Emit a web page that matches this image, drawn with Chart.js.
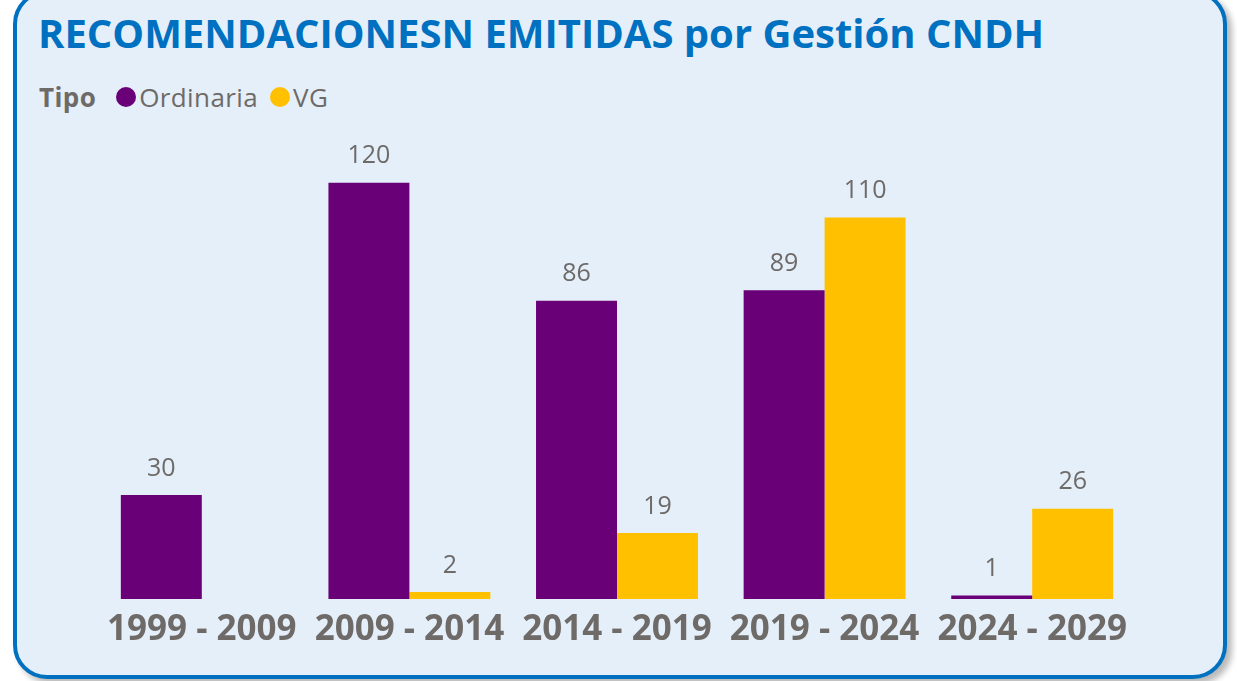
<!DOCTYPE html>
<html>
<head>
<meta charset="utf-8">
<script src="https://cdn.jsdelivr.net/npm/chart.js@4"></script>
<style>
  html, body { margin: 0; padding: 0; background: #ffffff; width: 1237px; height: 681px; overflow: hidden; }
  .card {
    position: absolute; left: 13px; top: -10px; width: 1206px; height: 681px;
    border: 4px solid #0070c0; border-radius: 34px; background: #e4eff9;
    box-shadow: 5px 5px 6px rgba(0,0,0,0.28);
  }
  .title {
    position: absolute; left: 38px; top: 5px; margin: 0;
    font-family: "Open Sans", sans-serif; font-weight: 700; font-size: 40px;
    color: #0070c0; white-space: nowrap;
  }
  .legend {
    position: absolute; left: 39px; top: 79px; height: 36px;
    font-family: "Open Sans", sans-serif; font-size: 26px; color: #6e6a68;
    display: flex; align-items: center; white-space: nowrap; letter-spacing: 0.4px;
  }
  .legend b { font-weight: 700; margin-right: 20px; }
  .legend .dot { display: inline-block; width: 20px; height: 20px; border-radius: 50%; margin-right: 3px; }
  .legend .item { display: flex; align-items: center; margin-right: 12px; }
  #wrap { position: absolute; left: 0; top: 130px; width: 1237px; height: 540px; }
</style>
</head>
<body>
<div class="card"></div>
<h1 class="title">RECOMENDACIONESN EMITIDAS por Gestión CNDH</h1>
<div class="legend" id="legend"></div>
<div id="wrap"><canvas id="chart"></canvas></div>
<script>
const periods = ["1999 - 2009", "2009 - 2014", "2014 - 2019", "2019 - 2024", "2024 - 2029"];
const ordinaria = [30, 120, 86, 89, 1];
const vg = [null, 2, 19, 110, 26];
const seriesNames = ["Ordinaria", "VG"];
const seriesColors = ["#690077", "#ffc000"];
const gray = "#6e6a68";

// legend as html
const legendEl = document.getElementById("legend");
legendEl.innerHTML = "<b>Tipo</b>" + seriesNames.map((n, i) =>
  `<span class="item"><span class="dot" style="background:${seriesColors[i]}"></span>${n}</span>`
).join("");

// value labels above bars
const barLabels = {
  id: "barLabels",
  afterDatasetsDraw(chart) {
    const ctx = chart.ctx;
    ctx.save();
    ctx.font = "400 25px 'Open Sans', sans-serif";
    ctx.fillStyle = gray;
    ctx.textAlign = "center";
    ctx.textBaseline = "bottom";
    chart.data.datasets.forEach((ds, i) => {
      chart.getDatasetMeta(i).data.forEach((bar, j) => {
        const v = ds.data[j];
        if (v === null || v === undefined) return;
        ctx.fillText(v, bar.x, bar.y - 14);
      });
    });
    ctx.restore();
  }
};

const ctx = document.getElementById("chart").getContext("2d");
new Chart(ctx, {
  type: "bar",
  data: {
    labels: periods,
    datasets: [
      { label: seriesNames[0], data: ordinaria, backgroundColor: seriesColors[0] },
      { label: seriesNames[1], data: vg, backgroundColor: seriesColors[1] },
    ],
  },
  options: {
    responsive: true,
    maintainAspectRatio: false,
    animation: false,
    categoryPercentage: 0.78,
    barPercentage: 1,
    layout: { padding: { left: 98, right: 101, top: 18, bottom: 9 } },
    plugins: {
      legend: { display: false },
      tooltip: { enabled: false },
    },
    scales: {
      y: {
        display: false,
        min: 0,
        max: 130,
      },
      x: {
        grid: { display: false, drawTicks: false },
        border: { display: false },
        ticks: {
          color: gray,
          padding: 10,
          maxRotation: 0,
          autoSkip: false,
          font: { size: 35, weight: 700, family: "'Open Sans', sans-serif" },
        },
      },
    },
  },
  plugins: [barLabels],
});
</script>
</body>
</html>
